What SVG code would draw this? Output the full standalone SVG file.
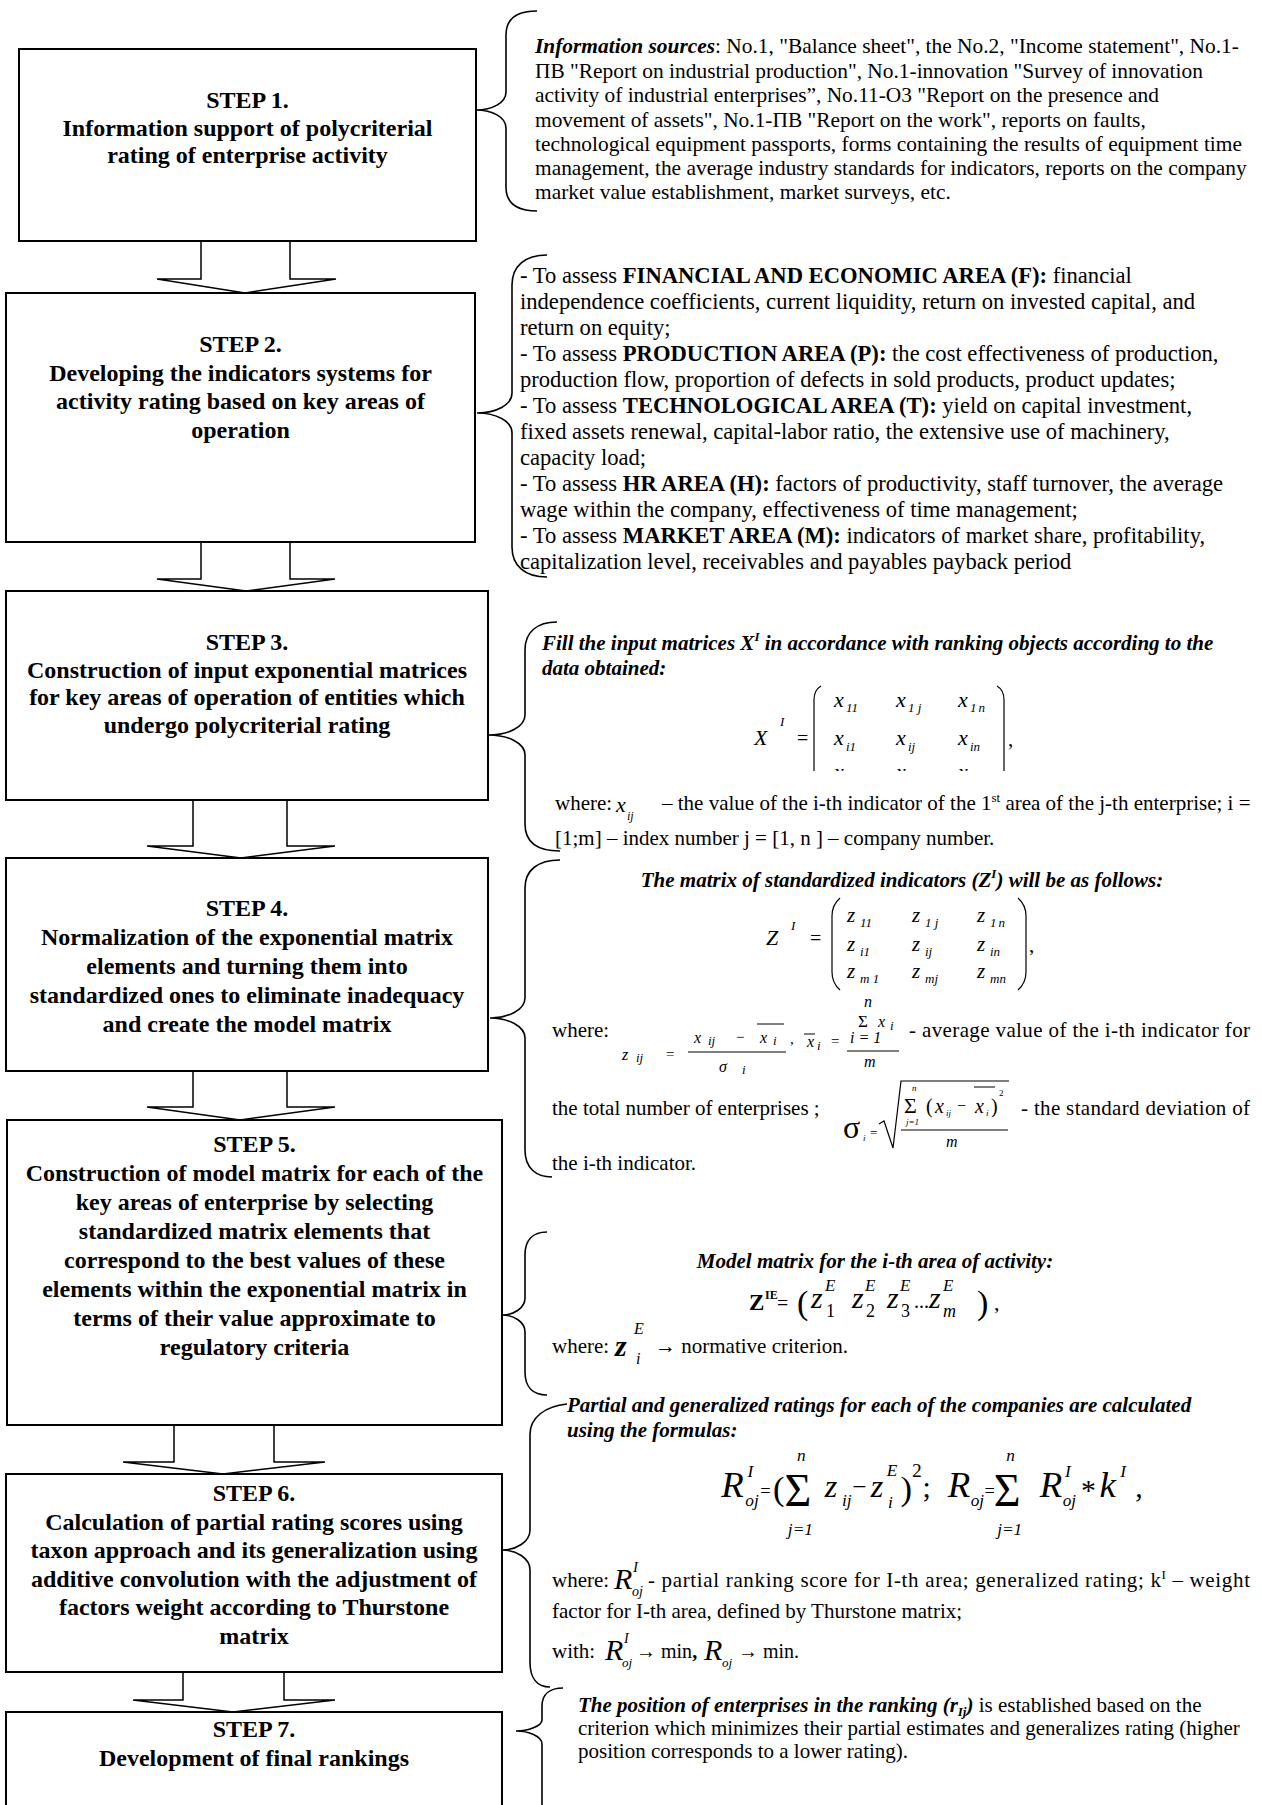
<svg xmlns="http://www.w3.org/2000/svg" width="1262" height="1805" viewBox="0 0 1262 1805">
<defs>
<style>
text { font-family: "Liberation Serif", "Times New Roman", serif; fill:#000; }
.box { fill:#fff; stroke:#000; stroke-width:2; }
.arr { fill:#fff; stroke:#000; stroke-width:1.5; stroke-linejoin:miter; }
.brace { fill:none; stroke:#000; stroke-width:1.6; }
.st { font-size:24px; font-weight:bold; text-anchor:middle; }
.t { font-size:21px; }
.t1 { font-size:21.4px; }
.t2 { font-size:22.6px; }
.bi { font-weight:bold; font-style:italic; }
.b { font-weight:bold; }
.i { font-style:italic; }
.par { fill:none; stroke:#000; stroke-width:1.2; }
.ln { stroke:#000; stroke-width:1; }
</style>
<clipPath id="clipX"><rect x="700" y="680" width="340" height="91"/></clipPath>
</defs>
<rect width="1262" height="1805" fill="#fff"/>

<g id="connectors">
<polyline class="arr" points="201,241 201,279 157,279 245,293 336,279 290,279 290,241"/>
<polyline class="arr" points="201,542 201,579 157,579 246,591 335,579 290,579 290,542"/>
<polyline class="arr" points="193,800 193,846 147,846 241,858 335,846 287,846 287,800"/>
<polyline class="arr" points="193,1071 193,1107 147,1107 240,1120 335,1107 287,1107 287,1071"/>
<polyline class="arr" points="174,1425 174,1462 123,1462 223,1474 325,1462 274,1462 274,1425"/>
<polyline class="arr" points="183,1672 183,1700 133,1700 233,1712 335,1700 284,1700 284,1672"/>
<path class="brace" d="M537,11 C518,11 506,18 506,35 L506,92 C506,103 492,110 476,110 C492,110 506,117 506,128 L506,187 C506,204 518,211 537,211"/>
<path class="brace" d="M547,255 C525,255 512,266 512,285 L512,393 C512,405 496,413 477,413 C496,413 512,421 512,433 L512,547 C512,566 525,577 547,577"/>
<path class="brace" d="M557,622 C537,622 525,632 525,650 L525,715 C525,727 508,735 488,735 C508,735 525,743 525,755 L525,824 C525,842 537,851 560,851"/>
<path class="brace" d="M560,860 C538,860 525,870 525,888 L525,998 C525,1010 508,1018 490,1018 C508,1018 525,1026 525,1038 L525,1150 C525,1168 536,1177 552,1177"/>
<path class="brace" d="M547,1232 C533,1232 525,1240 525,1255 L525,1298 C525,1308 514,1315 502,1315 C514,1315 525,1322 525,1332 L525,1372 C525,1387 533,1395 547,1395"/>
<path class="brace" d="M567,1404 C545,1406 530,1418 530,1434 L530,1530 C530,1542 516,1550 502,1550 C516,1550 530,1558 530,1570 L530,1662 C530,1678 537,1687 550,1687"/>
<path class="brace" d="M563,1688 C550,1688 542,1694 542,1706 L542,1720 C542,1726 528,1731 516,1731 C528,1731 542,1736 542,1744 L542,1810"/>
</g>

<g id="step1">
<rect class="box" x="19" y="49" width="457" height="192"/>
<text class="st" x="247.5" y="108">STEP 1.</text>
<text class="st" x="247.5" y="135.5">Information support of polycriterial</text>
<text class="st" x="247.5" y="163">rating of enterprise activity</text>
</g>
<g id="step2">
<rect class="box" x="6" y="293" width="469" height="249"/>
<text class="st" x="240.5" y="352">STEP 2.</text>
<text class="st" x="240.5" y="380.5">Developing the indicators systems for</text>
<text class="st" x="240.5" y="409">activity rating based on key areas of</text>
<text class="st" x="240.5" y="437.5">operation</text>
</g>
<g id="step3">
<rect class="box" x="6" y="591" width="482" height="209"/>
<text class="st" x="247" y="650">STEP 3.</text>
<text class="st" x="247" y="677.5">Construction of input exponential matrices</text>
<text class="st" x="247" y="705">for key areas of operation of entities which</text>
<text class="st" x="247" y="732.5">undergo polycriterial rating</text>
</g>
<g id="step4">
<rect class="box" x="6" y="858" width="482" height="213"/>
<text class="st" x="247" y="916">STEP 4.</text>
<text class="st" x="247" y="945">Normalization of the exponential matrix</text>
<text class="st" x="247" y="974">elements and turning them into</text>
<text class="st" x="247" y="1003">standardized ones to eliminate inadequacy</text>
<text class="st" x="247" y="1032">and create the model matrix</text>
</g>
<g id="step5">
<rect class="box" x="7" y="1120" width="495" height="305"/>
<text class="st" x="254.5" y="1152">STEP 5.</text>
<text class="st" x="254.5" y="1181">Construction of model matrix for each of the</text>
<text class="st" x="254.5" y="1210">key areas of enterprise by selecting</text>
<text class="st" x="254.5" y="1239">standardized matrix elements that</text>
<text class="st" x="254.5" y="1268">correspond to the best values of these</text>
<text class="st" x="254.5" y="1297">elements within the exponential matrix in</text>
<text class="st" x="254.5" y="1326">terms of their value approximate to</text>
<text class="st" x="254.5" y="1355">regulatory criteria</text>
</g>
<g id="step6">
<rect class="box" x="6" y="1474" width="496" height="198"/>
<text class="st" x="254" y="1501">STEP 6.</text>
<text class="st" x="254" y="1529.5">Calculation of partial rating scores using</text>
<text class="st" x="254" y="1558">taxon approach and its generalization using</text>
<text class="st" x="254" y="1586.5">additive convolution with the adjustment of</text>
<text class="st" x="254" y="1615">factors weight according to Thurstone</text>
<text class="st" x="254" y="1643.5">matrix</text>
</g>
<g id="step7">
<rect class="box" x="6" y="1712" width="496" height="115"/>
<text class="st" x="254" y="1737">STEP 7.</text>
<text class="st" x="254" y="1766">Development of final rankings</text>
</g>

<g id="note1" class="t1">
<text x="535" y="53"><tspan class="bi">Information sources</tspan>: No.1, "Balance sheet", the No.2, "Income statement", No.1-</text>
<text x="535" y="78">ПВ "Report on industrial production", No.1-innovation "Survey of innovation</text>
<text x="535" y="102">activity of industrial enterprises”, No.11-O3 "Report on the presence and</text>
<text x="535" y="127">movement of assets", No.1-ПВ "Report on the work", reports on faults,</text>
<text x="535" y="151">technological equipment passports, forms containing the results of equipment time</text>
<text x="535" y="175">management, the average industry standards for indicators, reports on the company</text>
<text x="535" y="199">market value establishment, market surveys, etc.</text>
</g>

<g id="note2" class="t2">
<text x="520" y="283">- To assess <tspan class="b">FINANCIAL AND ECONOMIC AREA (F):</tspan> financial</text>
<text x="520" y="309">independence coefficients, current liquidity, return on invested capital, and</text>
<text x="520" y="335">return on equity;</text>
<text x="520" y="361">- To assess <tspan class="b">PRODUCTION AREA (P):</tspan> the cost effectiveness of production,</text>
<text x="520" y="387">production flow, proportion of defects in sold products, product updates;</text>
<text x="520" y="413">- To assess <tspan class="b">TECHNOLOGICAL AREA (T):</tspan> yield on capital investment,</text>
<text x="520" y="439">fixed assets renewal, capital-labor ratio, the extensive use of machinery,</text>
<text x="520" y="465">capacity load;</text>
<text x="520" y="491">- To assess <tspan class="b">HR AREA (H):</tspan> factors of productivity, staff turnover, the average</text>
<text x="520" y="517">wage within the company, effectiveness of time management;</text>
<text x="520" y="543">- To assess <tspan class="b">MARKET AREA (M):</tspan> indicators of market share, profitability,</text>
<text x="520" y="569">capitalization level, receivables and payables payback period</text>
</g>

<g id="note3" class="t">
<text class="bi" x="542" y="650">Fill the input matrices X<tspan font-size="13" dy="-9">I</tspan><tspan dy="9"> in accordance with ranking objects according to the</tspan></text>
<text class="bi" x="542" y="675">data obtained:</text>
<text class="i" x="754" y="745" font-size="22">X</text>
<text class="i" x="780" y="726" font-size="13">I</text>
<text x="797" y="745" font-size="20">=</text>
<g clip-path="url(#clipX)">
<path class="par" d="M821,686 Q814,690 814,700 L814,790"/>
<path class="par" d="M997,686 Q1004,690 1004,700 L1004,790"/>
<g class="i" font-size="22">
<text x="834" y="707">x</text><text x="896" y="707">x</text><text x="958" y="707">x</text>
<text x="834" y="745">x</text><text x="896" y="745">x</text><text x="958" y="745">x</text>
<text x="834" y="779">x</text><text x="896" y="779">x</text><text x="958" y="779">x</text>
</g>
<g class="i" font-size="13">
<text x="846" y="712">11</text><text x="908" y="712">1 j</text><text x="970" y="712">1<tspan dx="2">n</tspan></text>
<text x="846" y="751">i1</text><text x="908" y="751">ij</text><text x="970" y="751">in</text>
</g>
</g>
<text x="1008" y="746">,</text>
<text x="555" y="810">where:</text>
<text class="i" x="616" y="812" font-size="22">x</text>
<text class="i" x="627" y="820" font-size="12">ij</text>
<text x="662" y="810">– the value of the i-th indicator of the 1<tspan font-size="13" dy="-8">st</tspan><tspan dy="8"> area of the j-th enterprise; i =</tspan></text>
<text x="555" y="845">[1;m] – index number j = [1, n ] – company number.</text>
</g>

<g id="note4" class="t">
<text class="bi" x="902" y="887" text-anchor="middle">The matrix of standardized indicators (Z<tspan font-size="13" dy="-9">I</tspan><tspan dy="9">) will be as follows:</tspan></text>
<text class="i" x="766" y="945" font-size="22">Z</text>
<text class="i" x="791" y="930" font-size="13">I</text>
<text x="810" y="945" font-size="20">=</text>
<path class="par" d="M840,898 Q832,905 832,916 L832,972 Q832,983 840,990"/>
<path class="par" d="M1018,898 Q1026,905 1026,916 L1026,972 Q1026,983 1018,990"/>
<g class="i" font-size="21">
<text x="847" y="922">z</text><text x="912" y="922">z</text><text x="977" y="922">z</text>
<text x="847" y="951">z</text><text x="912" y="951">z</text><text x="977" y="951">z</text>
<text x="847" y="978">z</text><text x="912" y="978">z</text><text x="977" y="978">z</text>
</g>
<g class="i" font-size="13">
<text x="860" y="927">11</text><text x="925" y="927">1 j</text><text x="990" y="927">1<tspan dx="2">n</tspan></text>
<text x="860" y="956">i1</text><text x="925" y="956">ij</text><text x="990" y="956">in</text>
<text x="860" y="983">m 1</text><text x="925" y="983">mj</text><text x="990" y="983">mn</text>
</g>
<text x="1029" y="952">,</text>
<text x="552" y="1037">where:</text>
<g class="i" font-size="16">
<text x="622" y="1060">z</text><text x="636" y="1062" font-size="13">ij</text>
<text x="694" y="1043">x</text><text x="708" y="1045" font-size="13">ij</text>
<text x="760" y="1043">x</text><text x="773" y="1045" font-size="13">i</text>
<text x="719" y="1072">σ</text><text x="742" y="1074" font-size="13">i</text>
<text x="807" y="1047">x</text><text x="817" y="1050" font-size="13">i</text>
<text x="864" y="1007">n</text>
<text x="878" y="1027">x</text><text x="890" y="1030" font-size="13">i</text>
<text x="850" y="1043">i = 1</text>
<text x="864" y="1067">m</text>
</g>
<text x="666" y="1059" font-size="15">=</text>
<text x="736" y="1042" font-size="15">−</text>
<text x="790" y="1044" font-size="15">,</text>
<text x="831" y="1046" font-size="15">=</text>
<text x="858" y="1027" font-size="17">Σ</text>
<line class="ln" x1="757" y1="1024" x2="784" y2="1024"/>
<line class="ln" x1="688" y1="1052" x2="786" y2="1052"/>
<line class="ln" x1="804" y1="1034" x2="815" y2="1034"/>
<line class="ln" x1="847" y1="1051" x2="899" y2="1051"/>
<text x="909" y="1037" textLength="341" lengthAdjust="spacing">- average value of the i-th indicator for</text>
<text x="552" y="1115">the total number of enterprises ;</text>
<text x="843" y="1138" font-size="32">σ</text>
<text class="i" x="863" y="1141" font-size="9">i</text>
<text x="870" y="1137" font-size="13">=</text>
<path fill="none" stroke="#000" stroke-width="1.2" d="M879,1124 L884,1121 L893,1148 L901,1081 L1009,1081"/>
<text x="904" y="1113" font-size="22">Σ</text>
<text class="i" x="912" y="1091" font-size="9">n</text>
<text class="i" x="906" y="1125" font-size="9">j=1</text>
<text x="926" y="1113" font-size="20">(</text>
<text class="i" x="935" y="1113" font-size="20">x</text>
<text class="i" x="946" y="1116" font-size="9">ij</text>
<text x="957" y="1111" font-size="16">−</text>
<text class="i" x="975" y="1113" font-size="20">x</text>
<text class="i" x="986" y="1116" font-size="9">i</text>
<line class="ln" x1="974" y1="1087" x2="995" y2="1087"/>
<text x="991" y="1113" font-size="20">)</text>
<text x="999" y="1096" font-size="9">2</text>
<line class="ln" x1="901" y1="1130" x2="1008" y2="1130"/>
<text class="i" x="946" y="1147" font-size="16">m</text>
<text x="1021" y="1115" textLength="229" lengthAdjust="spacing">- the standard deviation of</text>
<text x="552" y="1170">the i-th indicator.</text>
</g>

<g id="note5" class="t">
<text class="bi" x="875" y="1268" text-anchor="middle">Model matrix for the i-th area of activity:</text>
<text class="b" x="749" y="1310" font-size="23">Z</text>
<text class="b" x="765" y="1299" font-size="12">IE</text>
<text x="777" y="1310" font-size="20">=</text>
<text x="797" y="1314" font-size="34">(</text>
<g class="i" font-size="30">
<text x="811" y="1308">z</text><text x="852" y="1308">z</text><text x="887" y="1308">z</text><text x="929" y="1308">z</text>
</g>
<g class="i" font-size="17">
<text x="825" y="1291">E</text><text x="865" y="1291">E</text><text x="900" y="1291">E</text><text x="943" y="1291">E</text>
</g>
<g font-size="18">
<text x="826" y="1317">1</text><text x="866" y="1317">2</text><text x="901" y="1317">3</text><text class="i" x="943" y="1317">m</text>
</g>
<text x="914" y="1308" font-size="20">...</text>
<text x="977" y="1314" font-size="34">)</text>
<text x="994" y="1310" font-size="22">,</text>
<text x="552" y="1353">where:</text>
<text class="bi" x="615" y="1356" font-size="30">z</text>
<text class="i" x="634" y="1334" font-size="16">E</text>
<text class="i" x="636" y="1364" font-size="16">i</text>
<text x="655" y="1353">→ normative criterion.</text>
</g>

<g id="note6" class="t">
<text class="bi" x="567" y="1412">Partial and generalized ratings for each of the companies are calculated</text>
<text class="bi" x="567" y="1437">using the formulas:</text>
<g transform="matrix(1.15 0 0 1.15 -152.85 -224.55)">
<g class="i" font-size="32">
<text x="760" y="1497">R</text><text x="957" y="1497">R</text><text x="1037" y="1497">R</text><text x="1089" y="1497">k</text>
</g>
<g class="i" font-size="28">
<text x="850" y="1497">z</text><text x="890" y="1497">z</text>
</g>
<g class="i" font-size="15">
<text x="783" y="1480">I</text><text x="781" y="1505">oj</text>
<text x="826" y="1466">n</text><text x="818" y="1530">j=1</text>
<text x="865" y="1505">ij</text>
<text x="904" y="1479">E</text><text x="905" y="1507">i</text>
<text x="977" y="1505">oj</text>
<text x="1008" y="1466">n</text><text x="1000" y="1530">j=1</text>
<text x="1059" y="1480">I</text><text x="1057" y="1505">oj</text>
<text x="1107" y="1480">I</text>
</g>
<text x="794" y="1497" font-size="16">=</text>
<text x="805" y="1500" font-size="30">(</text>
<text x="815" y="1505" font-size="40">Σ</text>
<text x="874" y="1495" font-size="22">−</text>
<text x="916" y="1500" font-size="30">)</text>
<text x="926" y="1480" font-size="17">2</text>
<text x="935" y="1497" font-size="26">;</text>
<text x="989" y="1497" font-size="16">=</text>
<text x="997" y="1505" font-size="40">Σ</text>
<text x="1073" y="1500" font-size="26">*</text>
<text x="1120" y="1497" font-size="26">,</text>
</g>
<text x="552" y="1587">where:</text>
<text class="i" x="614" y="1589" font-size="30">R</text>
<text class="i" x="633" y="1572" font-size="15">I</text>
<text class="i" x="632" y="1596" font-size="14">oj</text>
<text x="648" y="1587" textLength="602" lengthAdjust="spacing">- partial ranking score for I-th area; generalized rating; k<tspan font-size="13" dy="-8">I</tspan><tspan dy="8"> – weight</tspan></text>
<text x="552" y="1618">factor for I-th area, defined by Thurstone matrix;</text>
<text x="552" y="1658">with:</text>
<text class="i" x="605" y="1660" font-size="30">R</text>
<text class="i" x="624" y="1643" font-size="14">I</text>
<text class="i" x="622" y="1667" font-size="13">oj</text>
<text x="636" y="1658" font-size="20">→ min<tspan class="b">,</tspan></text>
<text class="i" x="704" y="1660" font-size="30">R</text>
<text class="i" x="722" y="1667" font-size="13">oj</text>
<text x="738" y="1658" font-size="20">→ min.</text>
</g>

<g id="note7" class="t">
<text x="578" y="1712"><tspan class="bi">The position of enterprises in the ranking (r<tspan font-size="13" dy="4">Ij</tspan><tspan dy="-4">)</tspan></tspan> is established based on the</text>
<text x="578" y="1735">criterion which minimizes their partial estimates and generalizes rating (higher</text>
<text x="578" y="1758">position corresponds to a lower rating).</text>
</g>
</svg>
